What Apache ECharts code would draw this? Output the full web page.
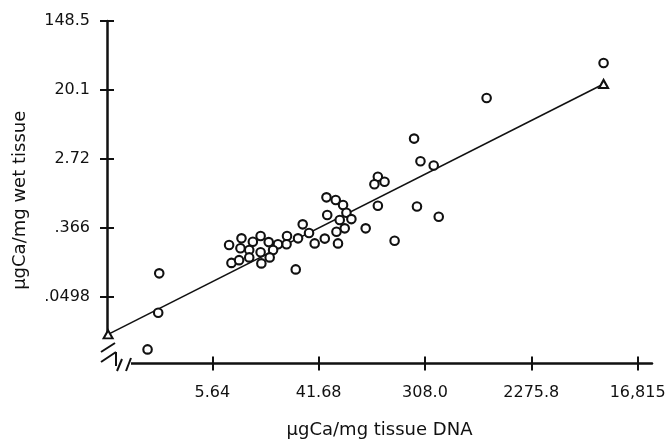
<!DOCTYPE html>
<html>
<head>
<meta charset="utf-8">
<script src="https://cdn.jsdelivr.net/npm/echarts@6/dist/echarts.min.js"></script>
<style>html,body{margin:0;padding:0;background:#fff}#c{width:668px;height:441px}</style>
</head>
<body>
<div id="c"></div>
<script>
// Data in natural units (both axes are natural-log scaled)
const dnaCa = [8860, 982, 251, 283, 363, 127, 144, 119, 127, 265, 399, 48.3, 57.5, 66.0, 70.3, 77.2, 62.0, 49.0, 68.1, 58.3, 101, 60.0, 174, 46.8, 38.7, 34.8, 30.9, 28.3, 23.0, 22.8, 19.4, 17.7, 16.3, 14.0, 12.1, 9.77, 7.74, 9.58, 11.3, 14.0, 8.09, 9.34, 11.3, 14.2, 16.6, 27.1, 2.08, 2.04, 1.67];
const wetCa = [43.9, 15.9, 4.90, 2.54, 2.24, 1.62, 1.40, 1.30, 0.698, 0.682, 0.507, 0.890, 0.824, 0.713, 0.570, 0.474, 0.461, 0.533, 0.362, 0.328, 0.362, 0.234, 0.253, 0.269, 0.234, 0.316, 0.407, 0.271, 0.290, 0.228, 0.228, 0.193, 0.243, 0.290, 0.245, 0.271, 0.223, 0.203, 0.193, 0.181, 0.133, 0.144, 0.156, 0.131, 0.156, 0.110, 0.0982, 0.0313, 0.0108];
// Regression line end points (triangles)
const fitDna = [0.795, 8860];
const fitWet = [0.0167, 23.9];
// Tick labels
const xTickValues = [5.64, 41.68, 308.0, 2275.8, 16815];
const xTickLabels = ['5.64', '41.68', '308.0', '2275.8', '16,815'];
const yTickValues = [0.0498, 0.366, 2.72, 20.1, 148.5];
const yTickLabels = ['.0498', '.366', '2.72', '20.1', '148.5'];

const ln = Math.log;
const xTicksLn = xTickValues.map(ln);
const yTicksLn = yTickValues.map(ln);
function fmt(vals, labels) {
  return function (v) {
    for (let i = 0; i < vals.length; i++) if (Math.abs(vals[i] - v) < 1e-6) return labels[i];
    return '';
  };
}
const FONT = 'DejaVu Sans';
const INK = '#111111';
const X_MIN = -0.25, X_MAX = 10.0, Y_MIN = -4.94, Y_MAX = 5.001;

const chart = echarts.init(document.getElementById('c'), null, {renderer: 'canvas'});
const xBase = {type: 'value', min: X_MIN, max: X_MAX, position: 'bottom', splitLine: {show: false}};
const yBase = {type: 'value', min: Y_MIN, max: Y_MAX, position: 'left', splitLine: {show: false}};
chart.setOption({
  animation: false,
  backgroundColor: '#fff',
  grid: {left: 107, top: 21, width: 545, height: 342.6, containLabel: false, outerBoundsMode: 'none'},
  xAxis: [
    Object.assign({}, xBase, {
      name: 'µgCa/mg tissue DNA', nameLocation: 'middle', nameGap: 58,
      nameTextStyle: {fontFamily: FONT, fontSize: 18, color: INK},
      axisLine: {show: true, onZero: false, lineStyle: {color: INK, width: 2.5}},
      axisTick: {show: true, inside: false, length: 7, lineStyle: {color: INK, width: 2}, customValues: xTicksLn},
      axisLabel: {show: true, margin: 21, fontFamily: FONT, fontSize: 16, color: INK, customValues: xTicksLn, formatter: fmt(xTicksLn, xTickLabels)}
    }),
    Object.assign({}, xBase, {
      axisLine: {show: false, onZero: false},
      axisTick: {show: true, inside: true, length: 7, lineStyle: {color: INK, width: 2}, customValues: xTicksLn},
      axisLabel: {show: false}
    })
  ],
  yAxis: [
    Object.assign({}, yBase, {
      name: 'µgCa/mg wet tissue', nameLocation: 'middle', nameGap: 78, nameRotate: 90,
      nameTextStyle: {fontFamily: FONT, fontSize: 18, color: INK, padding: [0, 16, 0, 0]},
      axisLine: {show: true, onZero: false, lineStyle: {color: INK, width: 2.5}},
      axisTick: {show: true, inside: false, length: 7, lineStyle: {color: INK, width: 2}, customValues: yTicksLn},
      axisLabel: {show: true, margin: 17, fontFamily: FONT, fontSize: 16, color: INK, customValues: yTicksLn, formatter: fmt(yTicksLn, yTickLabels)}
    }),
    Object.assign({}, yBase, {
      axisLine: {show: false, onZero: false},
      axisTick: {show: true, inside: true, length: 7, lineStyle: {color: INK, width: 2}, customValues: yTicksLn},
      axisLabel: {show: false}
    })
  ],
  graphic: [
    {type: 'rect', z: 1, shape: {x: 99, y: 338, width: 32, height: 36}, style: {fill: '#fff'}},
    {type: 'line', z: 1, shape: {x1: 101, y1: 352, x2: 115, y2: 343}, style: {stroke: INK, lineWidth: 2}},
    {type: 'line', z: 1, shape: {x1: 101, y1: 362, x2: 116, y2: 352}, style: {stroke: INK, lineWidth: 2}},
    {type: 'line', z: 1, shape: {x1: 116, y1: 352, x2: 116, y2: 366}, style: {stroke: INK, lineWidth: 2}},
    {type: 'line', z: 1, shape: {x1: 117, y1: 371, x2: 122, y2: 359}, style: {stroke: INK, lineWidth: 2}},
    {type: 'line', z: 1, shape: {x1: 126, y1: 371, x2: 131, y2: 358}, style: {stroke: INK, lineWidth: 2}}
  ],
  series: [
    {
      type: 'line', xAxisIndex: 0, yAxisIndex: 0, z: 2,
      data: fitDna.map((d, i) => [ln(d), ln(fitWet[i])]),
      showSymbol: false, symbol: 'none',
      lineStyle: {color: INK, width: 1.6}
    },
    {
      type: 'scatter', xAxisIndex: 0, yAxisIndex: 0, z: 3,
      data: dnaCa.map((d, i) => [ln(d), ln(wetCa[i])]),
      symbol: 'circle', symbolSize: 8.5,
      itemStyle: {color: '#fff', borderColor: INK, borderWidth: 2.1, opacity: 1}
    },
    {
      type: 'scatter', xAxisIndex: 0, yAxisIndex: 0, z: 4,
      data: fitDna.map((d, i) => [ln(d), ln(fitWet[i])]),
      symbol: 'triangle', symbolSize: [9, 8],
      itemStyle: {color: '#fff', borderColor: INK, borderWidth: 2, opacity: 1}
    }
  ]
});
</script>
</body>
</html>
